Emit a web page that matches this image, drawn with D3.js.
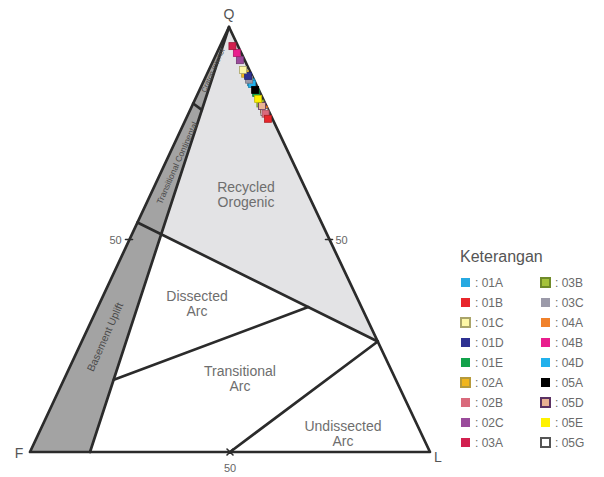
<!DOCTYPE html>
<html>
  <head>
    <title>QFL diagram</title>
    <meta charset="UTF-8">
    <script src="https://cdnjs.cloudflare.com/ajax/libs/d3/7.8.5/d3.min.js"></script>
  </head>
  <style type="text/css">
    body {
      margin: 0px;
      background: #fff;
    }
    text {
      font-family: "Liberation Sans", Arial, sans-serif;
    }
    .edge {
      fill: none;
      stroke: #2b2b2b;
      stroke-width: 2.7;
      stroke-linejoin: round;
      stroke-linecap: round;
    }
    .field {
      font-size: 14px;
      fill: #6e6e6e;
      text-anchor: middle;
    }
    .strip-label {
      fill: #4a4a4a;
      text-anchor: middle;
    }
    .vertex {
      font-size: 14px;
      fill: #555;
      text-anchor: middle;
    }
    .tick-label {
      font-size: 11px;
      fill: #666;
      text-anchor: middle;
    }
    .legend-title {
      font-size: 16px;
      fill: #555;
    }
    .legend-label {
      font-size: 12px;
      fill: #6a6a6a;
    }
  </style>
  <body>
    <div id="chart"></div>
    <script>
      // samples, composition in % (Q, F, L)
      const samples = ["01A", "01B", "01C", "01D", "01E", "02A", "02B", "02C", "03A",
                       "03B", "03C", "04A", "04B", "04D", "05A", "05D", "05E", "05G"];
      const qValues = [87.0, 78.4, 89.9, 88.5, 84.5, 89.0, 79.6, 92.2, 95.5,
                       82.0, 87.6, 80.6, 93.9, 86.6, 85.2, 81.4, 83.1, 80.0];
      const fValues = [1.0, 1.1, 1.6, 1.0, 1.0, 1.5, 1.1, 1.2, 1.4,
                       1.2, 1.2, 1.0, 1.1, 1.0, 0.9, 1.1, 1.2, 1.2];
      const lValues = [12.0, 20.5, 8.5, 10.5, 14.5, 9.5, 19.3, 6.6, 3.1,
                       16.8, 11.2, 18.4, 5.0, 12.4, 13.9, 17.5, 15.7, 18.8];
      const fillColors = ["#27a9e1", "#e8262b", "#fdf7a6", "#2e3192", "#12a24b", "#f1b51c",
                          "#d96a7c", "#9a4b9b", "#d2204f", "#a5c23b", "#9b9aa9", "#f0812b",
                          "#e91e8d", "#22b1ec", "#000000", "#e9b293", "#fff200", "#ffffff"];
      const borderColors = [null, null, "#a9a46a", null, null, "#b59a3c", null, null, null,
                            "#6f8a2a", null, null, null, null, null, "#5b3263", null, "#555555"];
      // drawing order, hidden samples first
      const drawOrder = ["01A", "04D", "01E", "03B", "04A", "05G", "03C", "02A", "05A",
                         "01D", "01C", "02C", "04B", "03A", "05D", "05E", "02B", "01B"];

      // field boundaries (Q, F, L)
      const blockEdge = [[100, 0, 0], [0, 85, 15]];
      const orogenEdge = [[54, 46, 0], [26, 0, 74]];
      const cratonEdge = [[82, 18, 0], [80.5, 16.6, 2.9]];
      const dissectedEdge = [[17, 70.5, 12.5], [34.1, 13.3, 52.6]];
      const undissectedEdge = [[26, 0, 74], [0, 50, 50]];
      const orogenField = [[100, 0, 0], [51.2, 41.5, 7.3], [26, 0, 74]];
      const blockField = [[100, 0, 0], [0, 100, 0], [0, 85, 15]];

      const width = 604, height = 477;
      const apex = {x: 229, y: 27}, fCorner = {x: 30, y: 452}, lCorner = {x: 430, y: 452};

      const yScale = d3.scaleLinear().domain([0, 100]).range([fCorner.y, apex.y]);
      const qShift = d3.scaleLinear().domain([0, 100]).range([fCorner.x, apex.x]);
      const lScale = d3.scaleLinear().domain([0, 100]).range([0, lCorner.x - fCorner.x]);

      const project = ([q, f, l]) => {
        const s = q + f + l;
        const qq = q * 100 / s, ll = l * 100 / s;
        return [qShift(qq) + lScale(ll), yScale(qq)];
      };
      const line = d3.line();

      const svg = d3.select("#chart").append("svg")
        .attr("width", width)
        .attr("height", height);

      // fills
      svg.append("path")
        .attr("d", line(orogenField.map(project)) + "Z")
        .attr("fill", "#e3e3e5");
      svg.append("path")
        .attr("d", line(blockField.map(project)) + "Z")
        .attr("fill", "#a3a3a3");

      // boundaries
      [blockEdge, orogenEdge, cratonEdge, dissectedEdge, undissectedEdge].forEach(seg => {
        svg.append("path").attr("class", "edge").attr("d", line(seg.map(project)));
      });
      svg.append("path")
        .attr("class", "edge")
        .attr("d", line([[100, 0, 0], [0, 100, 0], [0, 0, 100]].map(project)) + "Z");

      // 50 % ticks
      const mid = [[50, 50, 0], [50, 0, 50], [0, 50, 50]].map(project);
      svg.append("path").attr("class", "edge").style("stroke-width", 1.6)
        .attr("d", `M${mid[0][0] - 4},${mid[0][1]}h7`);
      svg.append("path").attr("class", "edge").style("stroke-width", 1.6)
        .attr("d", `M${mid[1][0] - 4},${mid[1][1]}h7`);
      svg.append("path").attr("class", "edge").style("stroke-width", 1.6)
        .attr("d", `M${mid[2][0] - 3},${mid[2][1] - 3}l6,6M${mid[2][0] + 3},${mid[2][1] - 3}l-6,6`);
      svg.append("text").attr("class", "tick-label")
        .attr("x", mid[0][0] - 14).attr("y", mid[0][1] + 4).text("50");
      svg.append("text").attr("class", "tick-label")
        .attr("x", mid[1][0] + 12).attr("y", mid[1][1] + 4).text("50");
      svg.append("text").attr("class", "tick-label")
        .attr("x", mid[2][0]).attr("y", mid[2][1] + 20).text("50");

      // vertex names
      svg.append("text").attr("class", "vertex").attr("x", apex.x).attr("y", apex.y - 8).text("Q");
      svg.append("text").attr("class", "vertex").attr("x", fCorner.x - 11).attr("y", fCorner.y + 6).text("F");
      svg.append("text").attr("class", "vertex").attr("x", lCorner.x + 8).attr("y", lCorner.y + 10).text("L");

      // field names
      const fieldNames = [
        {lines: ["Recycled", "Orogenic"], x: 246, y: 192},
        {lines: ["Dissected", "Arc"], x: 197, y: 301},
        {lines: ["Transitional", "Arc"], x: 240, y: 376},
        {lines: ["Undissected", "Arc"], x: 343, y: 431}
      ];
      fieldNames.forEach(d => {
        const t = svg.append("text").attr("class", "field").attr("x", d.x).attr("y", d.y);
        d.lines.forEach((s, i) => t.append("tspan").attr("x", d.x).attr("dy", i ? 15 : 0).text(s));
      });

      // names along the continental block strip
      const stripNames = [
        {text: "Basement Uplift", x: 105, y: 337, size: 10.5},
        {text: "Transitional Continental", x: 177, y: 163, size: 8.5},
        {text: "Craton Interior", x: 213, y: 70, size: 7.5}
      ];
      stripNames.forEach(d => {
        svg.append("text").attr("class", "strip-label")
          .attr("transform", `translate(${d.x},${d.y}) rotate(-66)`)
          .attr("dy", d.size * 0.35)
          .style("font-size", d.size + "px")
          .text(d.text);
      });

      // sample points
      const size = 7;
      drawOrder.forEach(name => {
        const i = samples.indexOf(name);
        const [x, y] = project([qValues[i], fValues[i], lValues[i]]);
        svg.append("rect")
          .attr("x", x - size / 2).attr("y", y - size / 2)
          .attr("width", size).attr("height", size)
          .attr("fill", fillColors[i])
          .attr("stroke", borderColors[i] || d3.color(fillColors[i]).darker(0.8))
          .attr("stroke-width", 0.8);
      });

      // legend
      const legend = svg.append("g").attr("transform", "translate(460,0)");
      legend.append("text").attr("class", "legend-title").attr("x", 0).attr("y", 262).text("Keterangan");
      samples.forEach((name, i) => {
        const col = Math.floor(i / 9), row = i % 9;
        const gx = col * 80, gy = 277 + row * 20;
        legend.append("rect")
          .attr("x", gx + 1).attr("y", gy + 1)
          .attr("width", 9).attr("height", 9)
          .attr("fill", fillColors[i])
          .attr("stroke", borderColors[i] || "none")
          .attr("stroke-width", borderColors[i] ? 2 : 0);
        legend.append("text").attr("class", "legend-label")
          .attr("x", gx + 15).attr("y", gy + 9.5)
          .text(": " + name);
      });
    </script>
  </body>
</html>
